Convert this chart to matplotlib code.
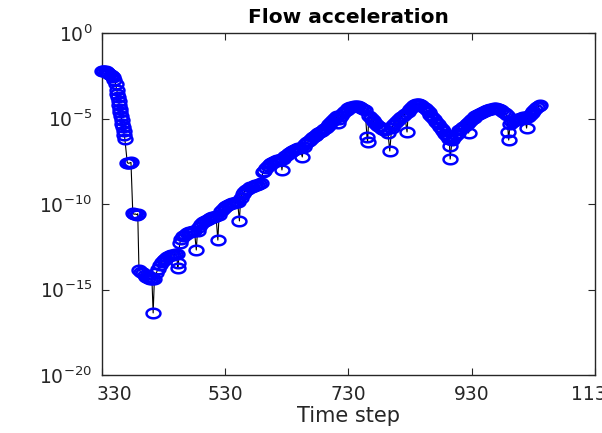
import matplotlib

matplotlib.use("Agg")
import matplotlib.pyplot as plt
import numpy as np
from matplotlib.path import Path
from matplotlib.transforms import ScaledTranslation

# time step and log10 of the flow acceleration
# (one line per stretch of the curve, same layout in both lists)
steps = [
    330, 332, 334, 336, 338, 340, 342, 344, 346, 348, 350, 352, 354, 355, 356, 357, 358, 359,
    360, 361, 362, 363, 364, 365, 366, 367,
    371, 373, 375, 377,
    380, 382, 384, 386, 388,
    390, 393, 396, 399, 402, 405, 408, 411, 413,
    415, 418, 421, 424, 427, 430, 433, 436, 439, 442, 445, 448, 451, 453, 454,
    456, 459, 462, 465, 468, 471, 474, 477, 480, 483,
    485, 488, 491, 494, 497, 500, 503, 506, 509, 512, 515, 518,
    520, 523, 526, 529, 532, 535, 538, 541, 544, 547, 550, 553,
    555, 558, 561, 564, 567, 570, 573, 576, 579, 582, 585, 588, 591,
    593, 596, 599, 602, 605, 608, 611, 614, 617, 620, 622,
    624, 627, 630, 633, 636, 639, 642, 645, 648, 651, 655,
    657, 660, 663, 666, 669, 672, 675, 678, 681, 684, 687, 690,
    693, 696, 699, 702, 705, 708, 711, 713,
    715, 718, 721, 724, 727, 730, 733, 736, 739, 742, 745, 748, 751, 754, 757, 760, 761,
    763, 766, 769, 772, 775, 778, 781, 784, 787, 790, 794, 797,
    800, 803, 806, 809, 812, 815, 818, 821, 825,
    827, 830, 833, 836, 839, 842, 845, 848, 851, 854, 857, 860, 863, 866, 869, 872, 875, 878,
    881, 884, 887, 890, 893, 894, 895,
    898, 901, 904, 907, 910, 913, 916, 919, 922, 924, 925, 927, 930, 933, 936, 939, 942,
    945, 948, 951, 954, 957, 960, 963, 966, 969, 972, 975, 978, 981, 984, 987, 989, 990,
    992, 995, 998, 1001, 1004, 1007, 1010, 1013, 1016, 1019,
    1021, 1024, 1027, 1030, 1033, 1036, 1039, 1041,
]
log_accel = [
    -2.20, -2.20, -2.22, -2.25, -2.28, -2.32, -2.37, -2.43, -2.50, -2.60, -2.75, -2.98, -3.33,
    -3.55, -3.77, -3.99, -4.20, -4.42, -4.64, -4.86, -5.08, -5.30, -5.52, -5.73, -5.95, -6.17,
    -7.58, -7.62, -7.60, -7.57,
    -10.55, -10.60, -10.58, -10.62, -10.57,
    -13.86, -13.95, -14.05, -14.15, -14.25, -14.32, -14.38, -14.40, -16.37,
    -14.40, -14.05, -13.78, -13.58, -13.42, -13.30, -13.20, -13.12, -13.06, -13.01, -12.97,
    -12.94, -12.92, -13.74, -13.45,
    -12.30, -12.05, -11.90, -11.80, -11.72, -11.66, -11.61, -11.58, -11.56, -12.69,
    -11.55, -11.32, -11.17, -11.06, -10.98, -10.91, -10.86, -10.82, -10.78, -10.75, -10.72, -12.11,
    -10.62, -10.42, -10.29, -10.19, -10.11, -10.05, -10.00, -9.96, -9.93, -9.90, -9.88, -10.99,
    -9.62, -9.42, -9.28, -9.18, -9.10, -9.03, -8.98, -8.93, -8.89, -8.86, -8.83, -8.80, -8.13,
    -8.05, -7.88, -7.77, -7.68, -7.61, -7.55, -7.49, -7.44, -7.40, -7.36, -8.01,
    -7.38, -7.22, -7.11, -7.03, -6.96, -6.90, -6.84, -6.79, -6.75, -6.71, -7.25,
    -6.65, -6.52, -6.40, -6.30, -6.20, -6.11, -6.02, -5.94, -5.86, -5.78, -5.71, -5.64,
    -5.55, -5.42, -5.30, -5.19, -5.08, -4.97, -4.87, -5.26,
    -5.05, -4.85, -4.70, -4.58, -4.48, -4.40, -4.34, -4.30, -4.28, -4.27, -4.28, -4.31, -4.36,
    -4.43, -4.52, -6.08, -6.37,
    -4.85, -4.98, -5.10, -5.22, -5.33, -5.43, -5.52, -5.60, -5.66, -5.70, -5.85, -6.90,
    -5.55, -5.40, -5.27, -5.15, -5.04, -4.93, -4.83, -4.74, -5.79,
    -4.60, -4.42, -4.30, -4.22, -4.17, -4.16, -4.18, -4.23, -4.30, -4.40, -4.52, -4.64, -4.77,
    -4.91, -5.05, -5.19, -5.33, -5.47, -5.61, -5.75, -5.90, -6.05, -6.20, -6.61, -7.37,
    -6.25, -6.10, -5.95, -5.82, -5.70, -5.60, -5.50, -5.42, -5.35, -5.28, -5.85, -5.12, -5.03,
    -4.95, -4.87, -4.80, -4.73,
    -4.68, -4.62, -4.57, -4.52, -4.48, -4.45, -4.42, -4.40, -4.40, -4.42, -4.46, -4.52, -4.60,
    -4.70, -4.82, -5.79, -6.26,
    -5.30, -5.22, -5.15, -5.10, -5.05, -5.00, -4.96, -4.93, -4.92, -5.56,
    -4.90, -4.78, -4.66, -4.55, -4.44, -4.35, -4.27, -4.22,
]
x_ticks = [330, 530, 730, 930, 1130]
y_ticks = [1e-20, 1e-15, 1e-10, 1e-5, 1e0]

accel = 10.0 ** np.array(log_accel)

plt.rcParams["font.family"] = ["DejaVu Sans"]
plt.rcParams["mathtext.default"] = "regular"
plt.rcParams["axes.unicode_minus"] = False

axis_gray = (0.15, 0.15, 0.15)

# MATLAB-like circles, stretched sideways as in the reference
theta = np.linspace(0, 2 * np.pi, 64)
ellipse = Path(np.column_stack([1.45 * np.cos(theta), np.sin(theta)]), closed=True)

fig = plt.figure(figsize=(6.02, 4.33), dpi=100)
ax = fig.add_axes([102 / 602, 58 / 433, 493 / 602, 342 / 433])

ax.plot(steps, accel, color="black", linewidth=0.8, zorder=2)
ax.plot(steps, accel, linestyle="none", marker=ellipse, markersize=10,
        markerfacecolor="none", markeredgecolor=(0, 0, 1), markeredgewidth=1.8,
        zorder=3, clip_on=False)

ax.set_yscale("log")
ax.set_xlim(330, 1130)
ax.set_ylim(1e-20, 1e0)
ax.set_xticks(x_ticks)
ax.set_yticks(y_ticks)
ax.yaxis.set_minor_locator(matplotlib.ticker.NullLocator())

ax.tick_params(which="both", direction="in", top=True, right=True, length=5,
               width=0.8, color=axis_gray, labelcolor=axis_gray, labelsize=13.5, pad=7)
for spine in ax.spines.values():
    spine.set_color(axis_gray)
    spine.set_linewidth(1.0)

# first x label sits a little right of its tick in the reference
first = ax.xaxis.get_major_ticks()[0].label1
first.set_transform(first.get_transform() + ScaledTranslation(12 / 100, 0, fig.dpi_scale_trans))

ax.set_title("Flow acceleration", fontsize=14.5, fontweight="bold", pad=7)
ax.set_xlabel("Time step", fontsize=15, color=axis_gray, labelpad=2)

fig.savefig("out.png", dpi=100)
